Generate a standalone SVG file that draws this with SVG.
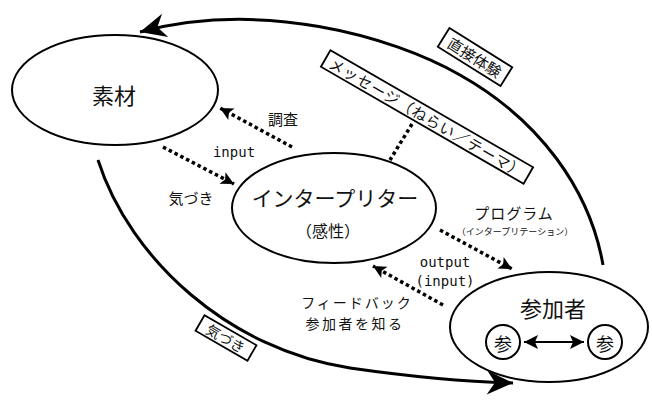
<svg xmlns="http://www.w3.org/2000/svg" width="652" height="403" viewBox="0 0 652 403">
<style>
text{font-family:"Noto Sans CJK JP","Noto Sans",sans-serif;fill:#111;text-anchor:middle;dominant-baseline:central}
.mono{font-family:"DejaVu Sans Mono","Liberation Mono",monospace;font-size:14px}
.node{fill:#fff;stroke:#000;stroke-width:2}
.arc{fill:none;stroke:#000;stroke-width:3}
.dot{fill:none;stroke:#000;stroke-width:3.5;stroke-dasharray:3.5 3}
.tag{fill:#fff;stroke:#000;stroke-width:1.8}
</style>
<defs>
<marker id="big" markerUnits="userSpaceOnUse" markerWidth="30" markerHeight="30" viewBox="-28 -14 30 28" refX="0" refY="0" orient="auto"><path d="M0,0 L-26,-12 L-18,0 L-26,12 Z" fill="#000"/></marker>
<marker id="sm" markerUnits="userSpaceOnUse" markerWidth="16" markerHeight="16" viewBox="-14 -8 16 16" refX="0" refY="0" orient="auto"><path d="M0,0 L-13,-6.5 L-10,0 L-13,6.5 Z" fill="#000"/></marker>
<marker id="dbl" markerUnits="userSpaceOnUse" markerWidth="18" markerHeight="18" viewBox="-16 -9 18 18" refX="0" refY="0" orient="auto-start-reverse"><path d="M0,0 L-14,-7 L-11,0 L-14,7 Z" fill="#000"/></marker>
</defs>
<g id="connectors">
<path class="arc" d="M603,265 C590,190 540,120 460,75 C390,35 260,0 140,32" marker-end="url(#big)"/>
<path class="arc" d="M98,160 C130,260 230,350 350,368 C420,378 470,382 513,383" marker-end="url(#big)"/>
<path class="dot" d="M292,147 L220,108" marker-end="url(#sm)"/>
<path class="dot" d="M163,147 L234,184" marker-end="url(#sm)"/>
<path class="dot" d="M440,230 L512,269" marker-end="url(#sm)"/>
<path class="dot" d="M443,305 L373,266" marker-end="url(#sm)"/>
<path class="dot" d="M412,124 L390,160"/>
</g>
<g id="sozai">
<ellipse class="node" cx="115" cy="90" rx="103" ry="55"/>
<text x="114" y="94" font-size="22">素材</text>
</g>
<g id="interpreter">
<ellipse class="node" cx="334" cy="208" rx="102" ry="55"/>
<text x="335" y="197" font-size="21">インタープリター</text>
<text x="328" y="230" font-size="16">（感性）</text>
</g>
<g id="sankasha">
<ellipse class="node" cx="549" cy="327" rx="99" ry="55"/>
<text x="553" y="307" font-size="22">参加者</text>
<circle class="node" cx="503" cy="342" r="17"/>
<text x="503" y="343" font-size="18">参</text>
<circle class="node" cx="605" cy="342" r="17"/>
<text x="605" y="343" font-size="18">参</text>
<path d="M524,342 L584,342" stroke="#000" stroke-width="2" marker-start="url(#dbl)" marker-end="url(#dbl)"/>
</g>
<g id="label-chokusetsu" transform="translate(475,57) rotate(32)">
<rect class="tag" x="-37" y="-11" width="74" height="22"/>
<text x="0" y="0" font-size="15">直接体験</text>
</g>
<g id="label-message" transform="translate(427,117) rotate(30)">
<rect class="tag" x="-117" y="-9.5" width="234" height="19"/>
<text x="0" y="0" font-size="15" textLength="222" lengthAdjust="spacing">メッセージ（ねらい／テーマ）</text>
</g>
<g id="label-kizuki2" transform="translate(226,338) rotate(30)">
<rect class="tag" x="-30" y="-9" width="60" height="18"/>
<text x="0" y="0" font-size="14">気づき</text>
</g>
<g id="labels">
<text x="283" y="118" font-size="15">調査</text>
<text class="mono" x="234" y="152">input</text>
<text x="191" y="197" font-size="15">気づき</text>
<text x="514" y="212" font-size="15" letter-spacing="1">プログラム</text>
<text x="515" y="231" font-size="9">（インタープリテーション）</text>
<text class="mono" x="445" y="262">output</text>
<text class="mono" x="445" y="281">(input)</text>
<text x="357" y="302" font-size="14" letter-spacing="2">フィードバック</text>
<text x="355" y="323" font-size="14" letter-spacing="2.5">参加者を知る</text>
</g>
</svg>
